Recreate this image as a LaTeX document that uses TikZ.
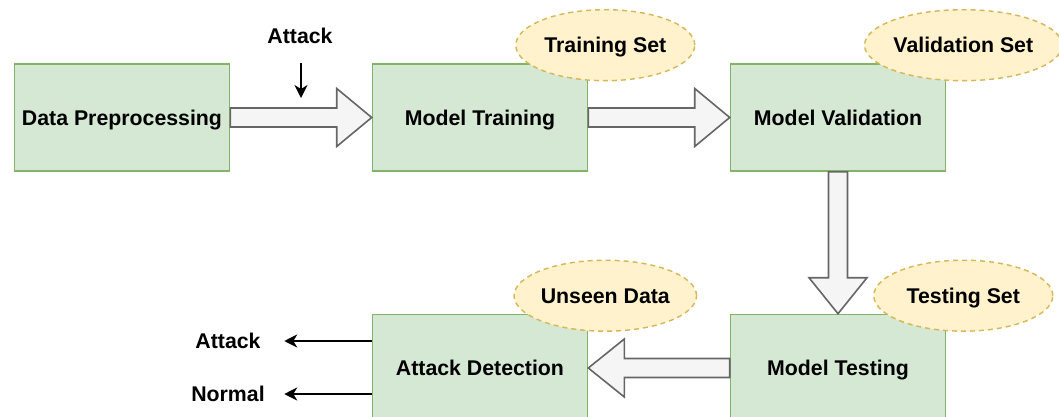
\documentclass[tikz,border=0pt]{standalone}
\usepackage{fontspec}
\setmainfont{Liberation Sans}
\usetikzlibrary{shapes.geometric,arrows.meta,calc}
\definecolor{boxfill}{HTML}{D5E8D4}
\definecolor{boxline}{HTML}{82B366}
\definecolor{elfill}{HTML}{FFF2CC}
\definecolor{elline}{HTML}{D6B656}
\definecolor{blkfill}{HTML}{F5F5F5}
\definecolor{blkline}{HTML}{666666}
\begin{document}
\begin{tikzpicture}[x=1pt,y=-1pt,
 txt/.style={font=\fontsize{21.3}{25}\selectfont\bfseries,text height=15.2pt,text depth=0pt},
 stage/.style={txt,draw=boxline,fill=boxfill,line width=1.6pt,minimum width=215pt,minimum height=107pt,inner sep=0pt},
 dataset/.style={txt,ellipse,draw=elline,fill=elfill,dash pattern=on 5pt off 4pt,line width=1.4pt,minimum width=179pt,minimum height=71pt,inner sep=0pt},
 lbl/.style={txt,inner sep=0pt},
 thin/.style={line width=1.6pt,-{Stealth[length=13pt,width=13pt,inset=4pt]}},
 blk/.style={draw=blkline,fill=blkfill,line width=1.6pt,line join=miter}]
\useasboundingbox (0,0) rectangle (1059,417);

\node[stage] (dp) at (122,117.5) {Data Preprocessing};
\node[stage] (mt) at (480,117.5) {Model Training};
\node[stage] (mv) at (838,117.5) {Model Validation};
\node[stage] (ad) at (480,368) {Attack Detection};
\node[stage] (ms) at (838,368) {Model Testing};

% block arrows
\draw[blk] ([yshift=9.5pt]dp.east) -- ([xshift=-35pt,yshift=9.5pt]mt.west) -- ([xshift=-35pt,yshift=29pt]mt.west) -- (mt.west) -- ([xshift=-35pt,yshift=-29pt]mt.west) -- ([xshift=-35pt,yshift=-9.5pt]mt.west) -- ([yshift=-9.5pt]dp.east) -- cycle;
\draw[blk] ([yshift=9.5pt]mt.east) -- ([xshift=-35pt,yshift=9.5pt]mv.west) -- ([xshift=-35pt,yshift=29pt]mv.west) -- (mv.west) -- ([xshift=-35pt,yshift=-29pt]mv.west) -- ([xshift=-35pt,yshift=-9.5pt]mv.west) -- ([yshift=-9.5pt]mt.east) -- cycle;
\draw[blk] ([xshift=-9.5pt]mv.south) -- ([xshift=-9.5pt,yshift=36pt]ms.north) -- ([xshift=-29pt,yshift=36pt]ms.north) -- (ms.north) -- ([xshift=29pt,yshift=36pt]ms.north) -- ([xshift=9.5pt,yshift=36pt]ms.north) -- ([xshift=9.5pt]mv.south) -- cycle;
\draw[blk] ([yshift=9.5pt]ms.west) -- ([xshift=36pt,yshift=9.5pt]ad.east) -- ([xshift=36pt,yshift=29pt]ad.east) -- (ad.east) -- ([xshift=36pt,yshift=-29pt]ad.east) -- ([xshift=36pt,yshift=-9.5pt]ad.east) -- ([yshift=-9.5pt]ms.west) -- cycle;

% data sets
\node[dataset] (trs) at ([xshift=17pt,yshift=18pt]mt.north east) {Training Set};
\node[dataset] (vas) at ([xshift=17pt,yshift=18pt]mv.north east) {Validation Set};
\node[dataset] (uns) at ([xshift=17pt,yshift=18pt]ad.north east) {Unseen Data};
\node[dataset] (tes) at ([xshift=17pt,yshift=18pt]ms.north east) {Testing Set};

% attack injection
\node[lbl] (atk) at (300,36) {Attack};
\coordinate (atkhit) at (301,98);
\draw[thin] ([xshift=1pt,yshift=-19.5pt]atk.south) -- (atkhit);

% outputs
\node[lbl] (oatk) at (228,341) {Attack};
\node[lbl] (onrm) at (228,394) {Normal};
\draw[thin] (ad.west |- oatk) -- ([xshift=23.5pt]oatk.east);
\draw[thin] (ad.west |- onrm) -- ([xshift=23.5pt]oatk.east |- onrm);
\end{tikzpicture}
\end{document}
